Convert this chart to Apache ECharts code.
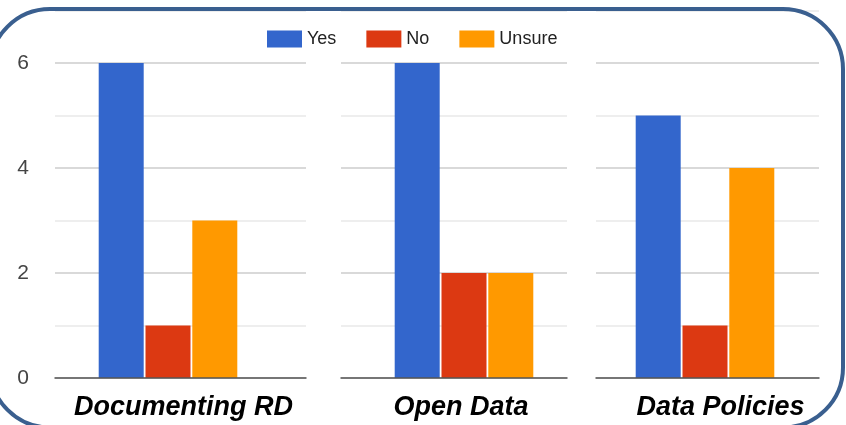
<!DOCTYPE html>
<html>
<head>
<meta charset="utf-8">
<script src="https://cdn.jsdelivr.net/npm/echarts@6/dist/echarts.min.js"></script>
<style>
  html, body { margin: 0; padding: 0; background: #fff; }
  #main { width: 846px; height: 425px; }
</style>
</head>
<body>
<div id="main"></div>
<script>
// survey answers per topic
var categories = ['Documenting RD', 'Open Data', 'Data Policies'];
var yesValues = [6, 6, 5];
var noValues = [1, 2, 1];
var unsureValues = [3, 2, 4];
var yTickLabels = ['0', '2', '4', '6'];

var chart = echarts.init(document.getElementById('main'));
var font = 'Liberation Sans, Arial, sans-serif';

// each topic: a panel with gridlines + axis, and a bar grid on top of it
// (the bars in the source aren't centred in their panels)
var panels = [
  { left: 55, right: 540, barLeft: 55, barRight: 565, pad: [0, 0, 0, 6] },
  { left: 341, right: 279, barLeft: 361, barRight: 279, pad: [0, 0, 0, 14] },
  { left: 596, right: 27, barLeft: 596, barRight: 32, pad: [0, 0, 0, 26] }
];
var n = panels.length;

var grids = [], xAxes = [], yAxes = [], series = [];
panels.forEach(function (p, i) {
  grids.push({ left: p.left, right: p.right, top: 10.5, bottom: 47 });
  xAxes.push({
    type: 'category',
    gridIndex: i,
    data: [categories[i]],
    axisTick: { show: false },
    axisLine: { lineStyle: { color: '#555', width: 1.5 } },
    axisLabel: {
      margin: 16,
      padding: p.pad,
      fontFamily: font,
      fontSize: 27,
      fontWeight: 'bold',
      fontStyle: 'italic',
      color: '#000'
    },
    z: 5
  });
  yAxes.push({
    type: 'value',
    gridIndex: i,
    min: 0,
    max: 7,
    interval: 1,
    axisLine: { show: false },
    axisTick: { show: false },
    axisLabel: {
      show: i === 0,
      margin: 26,
      fontFamily: font,
      fontSize: 21,
      color: '#444',
      formatter: function (v) {
        return yTickLabels.indexOf(String(v)) >= 0 ? String(v) : '';
      }
    },
    splitLine: { lineStyle: { color: ['#cccccc', '#e9e9e9'], width: 1.5 } }
  });
});

panels.forEach(function (p, i) {
  var g = n + i;
  grids.push({ left: p.barLeft, right: p.barRight, top: 10.5, bottom: 47 });
  xAxes.push({ type: 'category', gridIndex: g, data: [categories[i]], show: false });
  yAxes.push({ type: 'value', gridIndex: g, min: 0, max: 7, interval: 1, show: false });
  var sets = [
    ['Yes', yesValues, '#3366cc'],
    ['No', noValues, '#dc3912'],
    ['Unsure', unsureValues, '#ff9900']
  ];
  sets.forEach(function (s) {
    series.push({
      name: s[0],
      type: 'bar',
      xAxisIndex: g,
      yAxisIndex: g,
      data: [s[1][i]],
      barWidth: 45,
      barGap: '4%',
      itemStyle: { color: s[2] },
      z: 2,
      animation: false
    });
  });
});

chart.setOption({
  backgroundColor: '#fff',
  legend: {
    data: ['Yes', 'No', 'Unsure'],
    icon: 'rect',
    left: 262,
    top: 25,
    itemWidth: 35,
    itemHeight: 17,
    itemGap: 30,
    textStyle: { fontFamily: font, fontSize: 18, color: '#222' }
  },
  grid: grids,
  xAxis: xAxes,
  yAxis: yAxes,
  series: series,
  graphic: [{
    type: 'rect',
    z: 100,
    silent: true,
    shape: { x: -10, y: 9, width: 853, height: 418.5, r: 60 },
    style: { fill: 'none', stroke: '#3a5f8f', lineWidth: 4 }
  }]
});
</script>
</body>
</html>
